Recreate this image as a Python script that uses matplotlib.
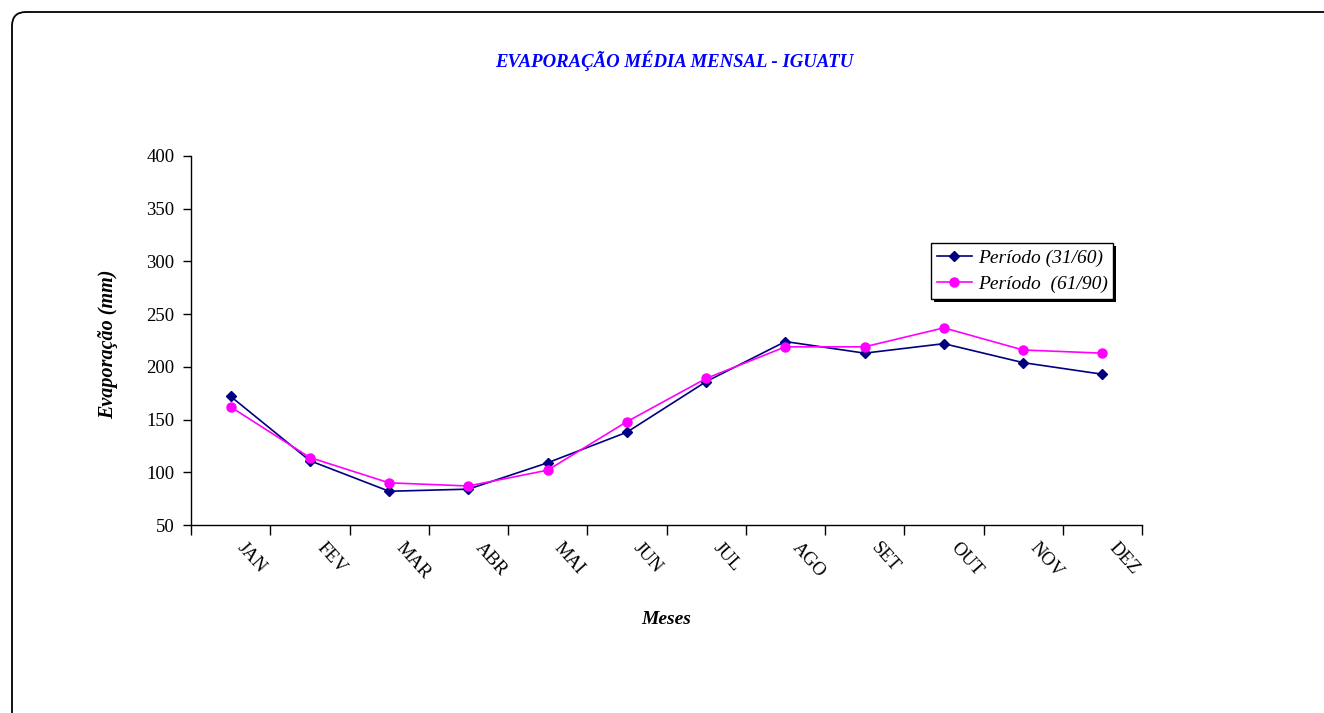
import matplotlib
matplotlib.use("Agg")
import matplotlib.pyplot as plt
from matplotlib.patches import FancyBboxPatch, Rectangle
import numpy as np

meses = ["JAN", "FEV", "MAR", "ABR", "MAI", "JUN",
         "JUL", "AGO", "SET", "OUT", "NOV", "DEZ"]
periodo_31_60 = [172, 111, 82, 84, 109, 138, 186, 224, 213, 222, 204, 193]
periodo_61_90 = [162, 114, 90, 87, 102, 148, 189, 219, 219, 237, 216, 213]
y_ticks = [50, 100, 150, 200, 250, 300, 350, 400]

W, H = 1324, 713
plt.rcParams["font.family"] = ["Liberation Serif", "DejaVu Serif"]

fig = plt.figure(figsize=(W / 100, H / 100), dpi=100)
fig.patch.set_facecolor("white")

# rounded frame around the chart area (runs off the right and bottom edges)
frame = FancyBboxPatch((12, -20), W + 40, H - 12 + 20,
                       boxstyle="round,pad=0,rounding_size=14",
                       transform=None, fill=False, edgecolor="black",
                       linewidth=1.3)
fig.patches.append(frame)

ax = fig.add_axes([191 / W, 1 - 525 / H, (1142 - 191) / W, (525 - 156) / H])
x = np.arange(len(meses)) + 0.5

ax.plot(x, periodo_31_60, color="#000080", marker="D", markersize=5,
        linewidth=1.2, label="Período (31/60)")
ax.plot(x, periodo_61_90, color="#FF00FF", marker="o", markersize=6.5,
        linewidth=1.2, label="Período  (61/90)")

ax.set_xlim(0, len(meses))
ax.set_ylim(50, 400)
ax.set_yticks(y_ticks)
ax.set_yticklabels([str(v) for v in y_ticks], fontsize=13.5)
ax.set_xticks(np.arange(len(meses) + 1))
ax.set_xticklabels([])
ax.tick_params(axis="y", direction="out", length=6, width=1, pad=6)
ax.tick_params(axis="x", direction="out", length=7, width=1)
for s in ("top", "right"):
    ax.spines[s].set_visible(False)
for s in ("left", "bottom"):
    ax.spines[s].set_linewidth(1)

for xi, m in zip(x, meses):
    ax.text(xi + 0.12, 50 - 19, m, rotation=-48, rotation_mode="anchor",
            ha="left", va="center", fontsize=13.5)

ax.set_ylabel("Evaporação (mm)", fontsize=14.5, fontweight="bold",
              style="italic")
ax.yaxis.set_label_coords((118 - 191) / (1142 - 191), 0.49)
ax.text(0.5, (525 - 619) / (525 - 156), "Meses", transform=ax.transAxes,
        ha="center", va="center", fontsize=14, fontweight="bold",
        style="italic")

fig.text(674 / W, 1 - 61 / H, "EVAPORAÇÃO MÉDIA MENSAL - IGUATU",
         ha="center", va="center", color="#0000FF", fontsize=13.5,
         fontweight="bold", style="italic")

leg = ax.legend(loc="upper left",
                bbox_to_anchor=((931 - 191) / (1142 - 191), (525 - 243) / (525 - 156)),
                fontsize=14, frameon=True, fancybox=False, shadow=False,
                framealpha=1, handlelength=1.8, handletextpad=0.3,
                borderpad=0.3, labelspacing=0.45, borderaxespad=0)
for t in leg.get_texts():
    t.set_style("italic")
fr = leg.get_frame()
fr.set_edgecolor("black")
fr.set_linewidth(1)
fr.set_facecolor("white")
leg.set_zorder(6)

fig.canvas.draw()
bb = leg.get_window_extent()
shadow = Rectangle((bb.x0 + 3, bb.y0 - 3), bb.width, bb.height,
                   transform=None, facecolor="black", edgecolor="none",
                   zorder=5, clip_on=False)
ax.add_artist(shadow)

fig.savefig("out.png", dpi=100, facecolor="white")
